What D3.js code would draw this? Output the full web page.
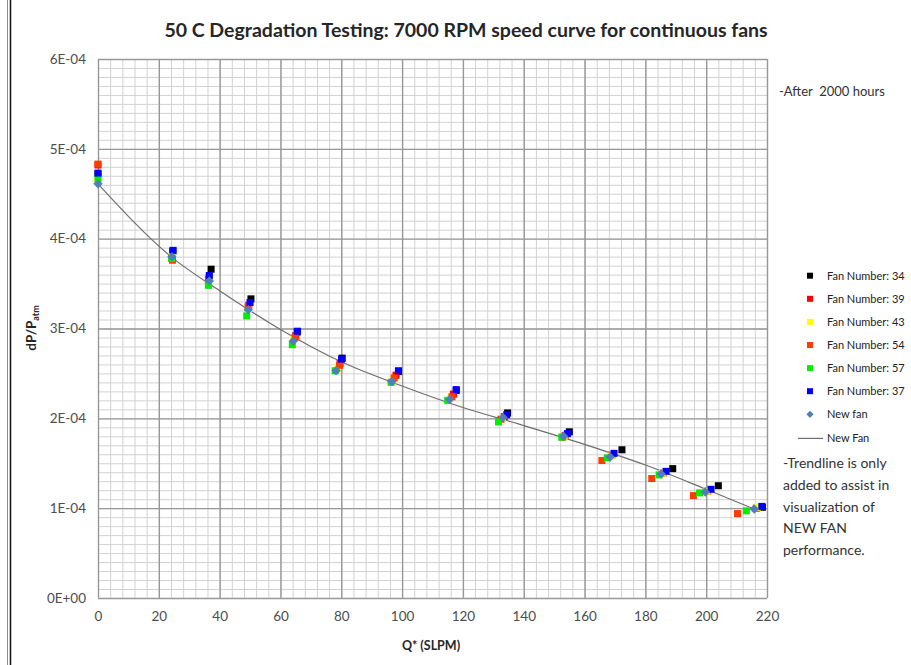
<!DOCTYPE html>
<html>
<head>
<meta charset="utf-8">
<script src="https://cdn.jsdelivr.net/npm/d3@7"></script>
<style>
  body { margin: 0; background: #fff; }
  svg { display: block; font-family: Lato, 'Open Sans', sans-serif; }
  .tickLbl text { font-family: Lato, sans-serif; font-size: 13.5px; fill: #4d4d4d; }
</style>
</head>
<body>
<svg id="chart" width="911" height="665"></svg>
<script>
// [Q* (SLPM), dP/Patm]
const fan34 = [[0,4.72e-4],[24.6,3.86e-4],[37.2,3.66e-4],[50.3,3.33e-4],[65.5,2.96e-4],[80.3,2.67e-4],[98.8,2.52e-4],[117.8,2.31e-4],[134.7,2.06e-4],[155.0,1.85e-4],[172.3,1.65e-4],[189.0,1.44e-4],[204.0,1.25e-4],[218.5,1.01e-4]];
const fan39 = [[0,4.82e-4],[24.3,3.78e-4],[36.6,3.57e-4],[49.6,3.26e-4],[65.0,2.92e-4],[79.6,2.61e-4],[98.0,2.48e-4],[116.9,2.27e-4],[133.6,2.02e-4],[153.6,1.81e-4],[169.0,1.59e-4],[185.8,1.39e-4],[200.5,1.19e-4],[216.5,1.00e-4]];
const fan43 = [[0,4.66e-4],[24.4,3.80e-4],[36.5,3.54e-4],[49.5,3.22e-4],[64.4,2.88e-4],[78.8,2.55e-4],[97.0,2.43e-4],[116.0,2.23e-4],[133.0,2.00e-4],[153.3,1.80e-4],[168.8,1.58e-4],[185.6,1.39e-4],[200.3,1.19e-4],[216.8,1.01e-4]];
const fan54 = [[0,4.83e-4],[24.5,3.76e-4],[36.3,3.55e-4],[49.4,3.24e-4],[64.8,2.90e-4],[79.4,2.59e-4],[97.4,2.45e-4],[116.4,2.24e-4],[132.5,1.99e-4],[152.8,1.79e-4],[165.7,1.53e-4],[182.1,1.33e-4],[195.8,1.14e-4],[210.3,0.94e-4]];
const fan57 = [[0,4.67e-4],[24.2,3.78e-4],[36.3,3.48e-4],[48.9,3.14e-4],[63.9,2.82e-4],[78.0,2.53e-4],[96.4,2.40e-4],[115.0,2.20e-4],[131.7,1.96e-4],[152.5,1.79e-4],[167.5,1.56e-4],[184.5,1.37e-4],[197.8,1.17e-4],[213.2,0.97e-4]];
const fan37 = [[0,4.73e-4],[24.7,3.87e-4],[36.6,3.59e-4],[50.0,3.29e-4],[65.6,2.97e-4],[80.1,2.66e-4],[98.8,2.53e-4],[117.8,2.32e-4],[134.4,2.04e-4],[154.4,1.83e-4],[169.7,1.61e-4],[186.8,1.41e-4],[201.6,1.21e-4],[218.3,1.02e-4]];
const newFan = [[0,4.61e-4],[24.3,3.80e-4],[36.6,3.53e-4],[49.4,3.21e-4],[64.2,2.86e-4],[78.3,2.53e-4],[96.6,2.41e-4],[115.6,2.21e-4],[133.2,2.01e-4],[153.1,1.80e-4],[168.4,1.57e-4],[185.2,1.38e-4],[199.7,1.18e-4],[215.8,0.99e-4]];
// trendline
const newFanTrend = [[0,4.61e-4],[24,3.80e-4],[40,3.42e-4],[60,2.99e-4],[80,2.63e-4],[100,2.36e-4],[120,2.12e-4],[140,1.92e-4],[160,1.71e-4],[180,1.48e-4],[200,1.21e-4],[215.8,0.99e-4]];

const xTicks = [0,20,40,60,80,100,120,140,160,180,200,220];
const yTicks = [0,1e-4,2e-4,3e-4,4e-4,5e-4,6e-4];
const yTickLabels = ['0E+00','1E-04','2E-04','3E-04','4E-04','5E-04','6E-04'];
const legendNames = ['Fan Number: 34','Fan Number: 39','Fan Number: 43','Fan Number: 54','Fan Number: 57','Fan Number: 37','New fan','New Fan'];
const noteLines = ['-Trendline is only','added to assist in','visualization of','NEW FAN','performance.'];

const svg = d3.select('#chart');
const W = 911, H = 665;
const plot = {left: 98, right: 767, top: 59, bottom: 598};

const x = d3.scaleLinear().domain([0, 220]).range([plot.left, plot.right]);
const y = d3.scaleLinear().domain([0, 6e-4]).range([plot.bottom, plot.top]);

// chart frame (left edge)
svg.append('line').attr('x1', 7.5).attr('x2', 7.5).attr('y1', 0).attr('y2', H)
  .attr('stroke', '#8c8c8c').attr('stroke-width', 1);
svg.append('line').attr('x1', 10.5).attr('x2', 10.5).attr('y1', 0).attr('y2', H)
  .attr('stroke', '#111').attr('stroke-width', 1.5);

// grid
const minorX = d3.range(0, 221, 4);
const minorY = d3.range(0, 61).map(i => i * 1e-5);
const plotH = plot.bottom - plot.top, plotW = plot.right - plot.left;

const gridStyle = (g, color, w) => {
  g.select('.domain').remove();
  g.selectAll('.tick line').attr('stroke', color).attr('stroke-width', w);
  g.selectAll('.tick text').remove();
};

svg.append('g')
  .attr('transform', `translate(0,${plot.bottom})`)
  .call(d3.axisBottom(x).tickValues(minorX).tickSize(-plotH))
  .call(g => gridStyle(g, '#d2d2d2', 1));
svg.append('g')
  .attr('transform', `translate(${plot.left},0)`)
  .call(d3.axisLeft(y).tickValues(minorY).tickSize(-plotW))
  .call(g => gridStyle(g, '#d2d2d2', 1));
svg.append('g')
  .attr('transform', `translate(0,${plot.bottom})`)
  .call(d3.axisBottom(x).tickValues(xTicks).tickSize(-plotH))
  .call(g => gridStyle(g, '#989898', 1.4));
svg.append('g')
  .attr('transform', `translate(${plot.left},0)`)
  .call(d3.axisLeft(y).tickValues(yTicks).tickSize(-plotW))
  .call(g => gridStyle(g, '#989898', 1.4));

// axis labels
svg.append('g').attr('class', 'tickLbl')
  .attr('transform', `translate(0,${plot.bottom})`)
  .call(d3.axisBottom(x).tickValues(xTicks).tickSize(0).tickPadding(13).tickFormat(d3.format('d')))
  .call(g => g.select('.domain').remove());

svg.append('g').attr('class', 'tickLbl')
  .attr('transform', `translate(${plot.left},0)`)
  .call(d3.axisLeft(y).tickValues(yTicks).tickSize(0).tickPadding(12).tickFormat((d, i) => yTickLabels[i]))
  .call(g => g.select('.domain').remove());

// trendline
const line = d3.line().x(d => x(d[0])).y(d => y(d[1])).curve(d3.curveMonotoneX);
svg.append('path').datum(newFanTrend)
  .attr('d', line).attr('fill', 'none').attr('stroke', '#6e6e6e').attr('stroke-width', 1.2);

// markers
const series = [
  {data: fan34, color: '#000000'},
  {data: fan39, color: '#ff0000'},
  {data: fan43, color: '#ffff00'},
  {data: fan54, color: '#ff3c00'},
  {data: fan57, color: '#00ee00'},
  {data: fan37, color: '#0000ff'}
];
const sq = 7;
series.forEach(s => {
  svg.append('g').selectAll('rect')
    .data(s.data).join('rect')
    .attr('x', d => x(d[0]) - sq / 2).attr('y', d => y(d[1]) - sq / 2)
    .attr('width', sq).attr('height', sq)
    .attr('fill', s.color);
});
const diamond = d3.symbol().type(d3.symbolSquare).size(44);
svg.append('g').selectAll('path')
  .data(newFan).join('path')
  .attr('d', diamond)
  .attr('transform', d => `translate(${x(d[0])},${y(d[1])}) rotate(45)`)
  .attr('fill', '#4f7fba');

// title
svg.append('text')
  .attr('x', 466).attr('y', 37).attr('text-anchor', 'middle')
  .style('font-size', '19.5px').attr('font-weight', 'bold').attr('fill', '#262626')
  .text('50 C Degradation Testing: 7000 RPM speed curve for continuous fans');

// axis titles
svg.append('text')
  .attr('x', 431).attr('y', 650).attr('text-anchor', 'middle')
  .style('font-size', '12.5px').attr('font-weight', 'bold').attr('fill', '#262626')
  .text('Q* (SLPM)');

const yt = svg.append('text')
  .attr('transform', 'translate(36,328) rotate(-90)')
  .attr('text-anchor', 'middle')
  .style('font-size', '13.5px').attr('font-weight', 'bold').attr('fill', '#262626');
yt.append('tspan').text('dP/P');
yt.append('tspan').style('font-size', '9px').attr('dy', 3).text('atm');

// notes
svg.append('text')
  .attr('x', 779).attr('y', 96).style('font-size', '13px').attr('fill', '#333')
  .attr('xml:space', 'preserve')
  .text('-After  2000 hours');

svg.append('g').selectAll('text')
  .data(noteLines).join('text')
  .attr('x', 783).attr('y', (d, i) => 468 + i * 21.8)
  .style('font-size', '14px').attr('fill', '#333')
  .text(d => d);

// legend
const lg = svg.append('g').style('font-size', '11px').attr('fill', '#222');
const rowY = i => 275.7 + i * 23.1;
series.forEach((s, i) => {
  lg.append('rect').attr('x', 810 - 3).attr('y', rowY(i) - 3).attr('width', 6).attr('height', 6).attr('fill', s.color);
});
lg.append('path').attr('d', d3.symbol().type(d3.symbolSquare).size(26))
  .attr('transform', `translate(810,${rowY(6)}) rotate(45)`).attr('fill', '#4f7fba');
lg.append('line').attr('x1', 798).attr('x2', 823).attr('y1', rowY(7) + 1).attr('y2', rowY(7) + 1)
  .attr('stroke', '#6e6e6e').attr('stroke-width', 1.2);
lg.selectAll('text.lbl')
  .data(legendNames).join('text').attr('class', 'lbl')
  .attr('x', 827).attr('y', (d, i) => rowY(i) + (i === 7 ? 1 : 0) + 4)
  .text(d => d);
</script>
</body>
</html>
